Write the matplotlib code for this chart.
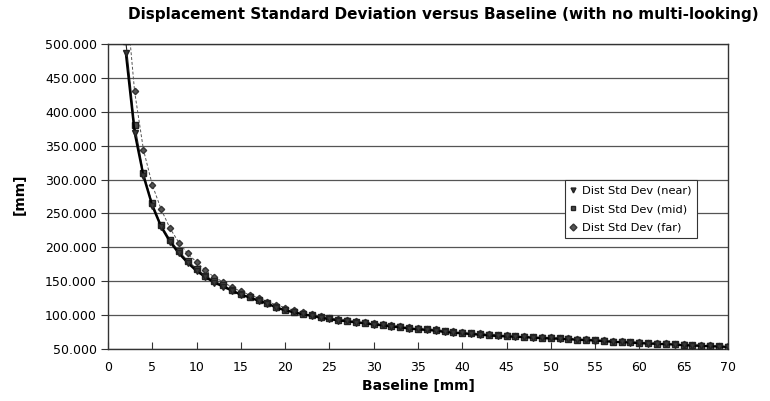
import matplotlib
matplotlib.use("Agg")
import matplotlib.pyplot as plt
from matplotlib.ticker import FormatStrFormatter

plt.rcParams["font.family"] = ["DejaVu Sans"]

baseline = list(range(2, 71))

near = [487, 369, 305, 261, 230, 208, 191, 177, 165, 156, 148, 142, 136, 130, 126, 121, 117, 111,
        107, 104, 101, 99, 96, 94, 92, 91, 89, 88, 86, 85, 83, 82, 80, 79, 78, 77, 75, 74,
        73, 72, 71, 70, 69, 68.5, 68, 67.5, 66.5, 66, 65.5, 65, 64.5, 63.5, 63, 62.5, 61.5, 60.5, 60,
        59.5, 58.5, 58, 57.5, 57, 56.5, 55.5, 55, 54.5, 54, 53.5, 53]
mid = [505, 381, 310, 265, 233, 211, 194, 180, 168, 158, 150, 144, 137, 131, 127, 122, 118, 112,
       108, 105, 102, 100, 97, 95, 93, 92, 90, 89, 87, 86, 84, 83, 81, 80, 79, 78, 76, 75,
       74, 73, 72, 71, 70, 69, 68.5, 68, 67, 66.5, 66, 65.5, 65, 64, 63.5, 63, 62, 61, 60.5,
       60, 59, 58.5, 58, 57.5, 57, 56, 55.5, 55, 54.5, 54, 53.5]
far = [575, 430, 344, 292, 256, 228, 207, 191, 178, 166, 156, 149, 141, 135, 130, 125, 120, 115,
       111, 107, 104, 101, 98, 96, 94, 93, 91, 90, 88, 87, 85, 84, 82, 81, 80, 79, 77, 76,
       75, 74, 73, 72, 71, 70, 69.5, 69, 68, 67.5, 67, 66.5, 66, 65, 64.5, 64, 63, 62, 61.5,
       61, 60, 59.5, 59, 58.5, 58, 57, 56.5, 56, 55.5, 55, 54.5]

xticks = list(range(0, 71, 5))
yticks = list(range(50, 501, 50))

fig = plt.figure(figsize=(7.7, 4.01), dpi=100)
ax = fig.add_axes([0.1403, 0.1297, 0.805, 0.7606])

ax.plot(baseline, near, color="black", lw=1.6, marker="v", ms=5, mfc="#3a3a3a", mec="#222222",
        label="Dist Std Dev (near)", zorder=4)
ax.plot(baseline, mid, color="#222222", lw=0.8, marker="s", ms=4.5, mfc="#4a4a4a", mec="#222222",
        label="Dist Std Dev (mid)", zorder=3)
ax.plot(baseline, far, color="#555555", lw=0.7, ls=(0, (3, 2)), marker="D", ms=3.2, mfc="#555555",
        mec="#333333", label="Dist Std Dev (far)", zorder=2)

ax.set_xlim(0, 70)
ax.set_ylim(50, 500)
ax.set_xticks(xticks)
ax.set_yticks(yticks)
ax.yaxis.set_major_formatter(FormatStrFormatter("%.3f"))
ax.tick_params(axis="both", labelsize=9, width=0.8, color="#333333")
ax.tick_params(axis="y", direction="out", length=5, pad=3)
ax.tick_params(axis="x", direction="in", length=5, pad=9)
ax.grid(axis="y", color="#555555", lw=0.9)
for s in ax.spines.values():
    s.set_color("#333333")
    s.set_linewidth(1.0)

fig.text(0.576, 0.963, "Displacement Standard Deviation versus Baseline (with no multi-looking)",
         fontsize=11, fontweight="bold", ha="center", va="center")
ax.set_xlabel("Baseline [mm]", fontsize=10, fontweight="bold", labelpad=3)
fig.text(0.026, 0.515, "[mm]", fontsize=10, fontweight="bold", rotation=90, ha="center", va="center")

leg = ax.legend(loc="upper left", bbox_to_anchor=(0.737, 0.554), fontsize=8.2, frameon=True,
                fancybox=False, edgecolor="#333333", framealpha=1, handlelength=0.5,
                handletextpad=0.5, borderpad=0.5, labelspacing=0.75, borderaxespad=0)
for h in leg.legend_handles:
    h.set_linestyle("none")
    h.set_markersize(3.5)
leg.get_frame().set_linewidth(0.8)

fig.savefig("out.png", dpi=100)
